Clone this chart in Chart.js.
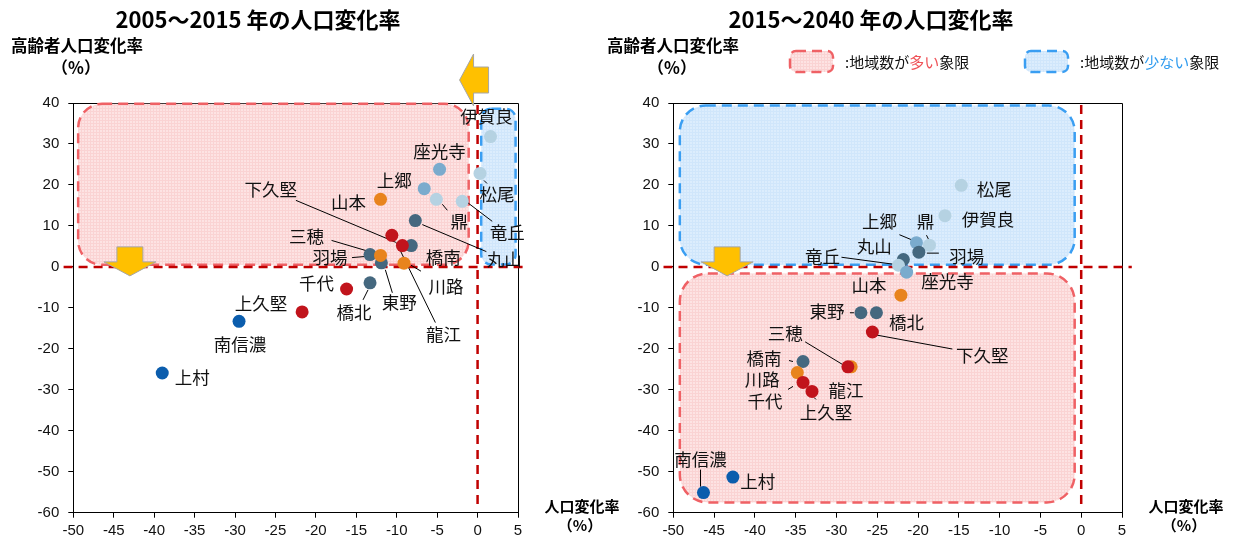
<!DOCTYPE html>
<html>
<head>
<meta charset="utf-8">
<script src="https://cdn.jsdelivr.net/npm/chart.js@4.4.1/dist/chart.umd.min.js"></script>
<style>
  html, body { margin: 0; padding: 0; background: #fff; }
  #wrap { position: relative; width: 1236px; height: 546px; overflow: hidden; }
  .pane { position: absolute; top: 0; }
  #paneA { left: 0; }
  #paneB { left: 596px; }
</style>
</head>
<body>
<div id="wrap">
  <div class="pane" id="paneA"><canvas id="chartA" width="620" height="546"></canvas></div>
  <div class="pane" id="paneB"><canvas id="chartB" width="640" height="546"></canvas></div>
</div>
<script>
const JP = "'Noto Sans CJK JP', 'Noto Sans', sans-serif";
const NUM = "'Liberation Sans', Arial, sans-serif";

// 地区名と地区グループ（色分け）
const places = ['伊賀良', '松尾', '上郷', '鼎', '丸山', '竜丘', '座光寺', '山本', '橋南', '羽場',
                '東野', '三穂', '龍江', '下久堅', '川路', '千代', '橋北', '上久堅', '南信濃', '上村'];
const areaGroup = ['pale', 'pale', 'mid', 'pale', 'slate', 'pale', 'mid', 'orange', 'slate', 'slate',
                   'slate', 'orange', 'red', 'red', 'orange', 'red', 'slate', 'red', 'blue', 'blue'];

// 2005～2015 年: 人口変化率 / 高齢者人口変化率 (%)
const popRate0515  = [1.6, 0.3, -6.6, -5.1, -7.7, -1.9, -4.7, -12.0, -8.2, -13.3,
                      -11.9, -12.0, -9.3, -10.6, -9.1, -16.2, -13.3, -21.7, -29.5, -39.0];
const agedRate0515 = [31.8, 22.8, 19.1, 16.5, 11.3, 16.0, 23.8, 16.5, 5.2, 3.0,
                      1.0, 2.8, 5.2, 7.7, 0.9, -5.4, -3.9, -11.0, -13.3, -25.9];

// 2015～2040 年
const popRate1540  = [-16.7, -14.7, -20.2, -18.6, -21.8, -22.4, -21.4, -22.1, -34.1, -19.9,
                      -27.0, -28.2, -28.6, -25.6, -34.8, -34.1, -25.1, -33.0, -46.3, -42.7];
const agedRate1540 = [12.5, 19.9, 5.9, 5.3, 1.8, 0.4, -1.3, -6.9, -23.1, 3.6,
                      -11.2, -24.4, -24.4, -15.9, -25.8, -28.2, -11.2, -30.4, -55.1, -51.3];

const titles = ['2005～2015 年の人口変化率', '2015～2040 年の人口変化率'];

const GROUP_COLORS = {
  pale: '#b5d2e2',
  mid: '#7aabcd',
  slate: '#45687f',
  orange: '#e8841d',
  red: '#c1141c',
  blue: '#0b5dad',
};

/* label placement: [dx, dy] from the marker, optional leader [x1, y1, x2, y2] */
const labelPosA = {
  '伊賀良': [-4, -20], '座光寺': [0, -18], '松尾': [17, 21, [4, 7, 7, 10]], '上郷': [-30, -8],
  '鼎': [23, 22, [6, 5, 11, 11]], '竜丘': [45, 31, [5, 1, 30, 20]], '山本': [-32, 3],
  '丸山': [89, 39, [7, 4, 71, 31]], '下久堅': [-121, -46, [-96, -35, 4, 7]],
  '龍江': [41, 89, [33, 77, -6, -3]], '橋南': [32, 12], '羽場': [-40, 3, [-18, 3, -6, 2]],
  '三穂': [-74, -19, [-49, -15, -5, -2]], '東野': [18, 40, [11, 30, 4, 7]],
  '川路': [42, 23, [17, 8, 7, 2]], '千代': [-30, -6], '橋北': [-16, 29, [-7, 17, -2, 7]],
  '上久堅': [-41, -9], '南信濃': [1, 23], '上村': [30, 4],
};
const labelPosB = {
  '松尾': [33, 4], '伊賀良': [43, 4], '上郷': [-37, -21, [-17, -8, -5, -3]],
  '鼎': [-4, -24, [-3, -10, -1, -6]], '羽場': [48, 4, [8, 1, 20, 1]], '丸山': [-29, -13],
  '竜丘': [-76, -9, [-57, -8, -5, -1]], '座光寺': [41, 9], '山本': [-32, -10],
  '東野': [-34, -1, [-11, 0, -7, 0]], '橋北': [30, 10], '下久堅': [110, 23, [4, 3, 80, 17]],
  '三穂': [-66, -34, [-46, -25, -8, -2]], '龍江': [-2, 23], '橋南': [-39, -3, [-14, -1, -10, 0]],
  '川路': [-35, 7], '千代': [-38, 19, [-15, 7, -10, 4]], '上久堅': [14, 21, [2, 6, 4, 8]],
  '南信濃': [-3, -33, [-3, -23, -3, -6]], '上村': [25, 4],
};

function texture(ctx, base, line) {
  const c = document.createElement('canvas');
  c.width = c.height = 3;
  const g = c.getContext('2d');
  g.fillStyle = base; g.fillRect(0, 0, 3, 3);
  g.fillStyle = line; g.fillRect(0, 0, 3, 1); g.fillRect(0, 0, 1, 3);
  return ctx.createPattern(c, 'repeat');
}

function zoneStyle(ctx, kind) {
  return kind === 'many'
    ? { fill: texture(ctx, '#fde3e3', '#fad3d3'), stroke: '#ef6165' }
    : { fill: texture(ctx, '#dcedfd', '#d0e6fb'), stroke: '#3a9ef2' };
}

function drawZone(ctx, x0, y0, x1, y1, r, kind) {
  const s = zoneStyle(ctx, kind);
  ctx.save();
  ctx.beginPath();
  ctx.roundRect(x0, y0, x1 - x0, y1 - y0, r);
  ctx.fillStyle = s.fill;
  ctx.fill();
  ctx.setLineDash([10, 6]);
  ctx.lineWidth = 2.5;
  ctx.strokeStyle = s.stroke;
  ctx.stroke();
  ctx.restore();
}

// block arrow; (px, py) is the reference point, dims in pixels
function drawArrow(ctx, px, py, dir) {
  ctx.save();
  ctx.translate(px, py);
  if (dir === 'left') ctx.rotate(Math.PI / 2);
  ctx.beginPath();
  ctx.moveTo(-13, -20);
  ctx.lineTo(13, -20);
  ctx.lineTo(13, -5);
  ctx.lineTo(26, -5);
  ctx.lineTo(0, 9);
  ctx.lineTo(-26, -5);
  ctx.lineTo(-13, -5);
  ctx.closePath();
  ctx.fillStyle = '#ffc000';
  ctx.fill();
  ctx.lineWidth = 1;
  ctx.strokeStyle = '#a6a6a6';
  ctx.stroke();
  ctx.restore();
}

const decor = {
  id: 'decor',
  beforeDatasetsDraw(chart, args, o) {
    const { ctx, chartArea: a, scales: { x, y } } = chart;
    ctx.save();
    // plot frame (top / right)
    ctx.strokeStyle = '#000';
    ctx.lineWidth = 1;
    ctx.beginPath();
    ctx.moveTo(a.left, Math.round(a.top) + 0.5);
    ctx.lineTo(Math.round(a.right) + 0.5, Math.round(a.top) + 0.5);
    ctx.lineTo(Math.round(a.right) + 0.5, a.bottom);
    ctx.stroke();

    o.zones.forEach(z => drawZone(ctx,
      x.getPixelForValue(z.x0), y.getPixelForValue(z.y1),
      x.getPixelForValue(z.x1), y.getPixelForValue(z.y0), z.r, z.kind));

    // zero lines
    ctx.strokeStyle = '#c00000';
    ctx.lineWidth = 2.5;
    ctx.setLineDash([9, 6]);
    const px0 = x.getPixelForValue(0), py0 = y.getPixelForValue(0);
    ctx.beginPath();
    ctx.moveTo(x.getPixelForValue(-51.2), py0);
    ctx.lineTo(x.getPixelForValue(6.2), py0);
    ctx.moveTo(px0, y.getPixelForValue(39.5));
    ctx.lineTo(px0, y.getPixelForValue(-58.5));
    ctx.stroke();
    ctx.setLineDash([]);

    // leader lines
    const meta = chart.getDatasetMeta(0);
    ctx.strokeStyle = '#000';
    ctx.lineWidth = 1;
    places.forEach((p, i) => {
      const lp = o.labels[p];
      if (!lp || !lp[2]) return;
      const pt = meta.data[i];
      const [x1, y1, x2, y2] = lp[2];
      ctx.beginPath();
      ctx.moveTo(pt.x + x1, pt.y + y1);
      ctx.lineTo(pt.x + x2, pt.y + y2);
      ctx.stroke();
    });
    ctx.restore();
  },
  afterDatasetsDraw(chart, args, o) {
    const { ctx, scales: { x, y } } = chart;
    const meta = chart.getDatasetMeta(0);
    ctx.save();
    ctx.font = `17.5px ${JP}`;
    ctx.fillStyle = '#111';
    ctx.textAlign = 'center';
    ctx.textBaseline = 'middle';
    places.forEach((p, i) => {
      const lp = o.labels[p];
      const pt = meta.data[i];
      ctx.fillText(p, pt.x + lp[0], pt.y + lp[1]);
    });
    o.arrows.forEach(ar => {
      drawArrow(ctx, x.getPixelForValue(ar.x) + (ar.dx || 0), y.getPixelForValue(ar.y) + (ar.dy || 0), ar.dir);
    });
    ctx.restore();
  },
  afterDraw(chart, args, o) {
    const { ctx, chartArea: a } = chart;
    ctx.save();
    ctx.fillStyle = '#000';
    ctx.textBaseline = 'middle';
    ctx.textAlign = 'center';
    ctx.font = `bold 22px ${JP}`;
    ctx.fillText(o.title, o.titleX, 20);

    ctx.font = `bold 16.5px ${JP}`;
    ctx.textAlign = 'left';
    ctx.fillText('高齢者人口変化率', 11, 46);
    ctx.textAlign = 'center';
    ctx.fillText('（%）', 76, 68);
    ctx.font = `bold 15px ${JP}`;
    ctx.fillText('人口変化率', a.right + 64, 506);
    ctx.fillText('（%）', a.right + 62, 525);

    if (o.legend) {
      const items = [
        { kind: 'many', x: 194, parts: [[':地域数が', '#111'], ['多い', '#ef5257'], ['象限', '#111']] },
        { kind: 'few', x: 429, parts: [[':地域数が', '#111'], ['少ない', '#2f9bef'], ['象限', '#111']] },
      ];
      items.forEach(it => {
        drawZone(ctx, it.x, 51, it.x + 43, 72, 6, it.kind);
        ctx.font = `15px ${JP}`;
        ctx.textAlign = 'left';
        let tx = it.x + 55;
        it.parts.forEach(([t, c]) => {
          ctx.fillStyle = c;
          ctx.fillText(t, tx, 62);
          tx += ctx.measureText(t).width;
        });
      });
    }
    ctx.restore();
  },
};

function makeChart(id, xs, ys, opts) {
  const points = places.map((p, i) => ({ x: xs[i], y: ys[i] }));
  return new Chart(document.getElementById(id), {
    type: 'scatter',
    data: {
      datasets: [{
        data: points,
        pointBackgroundColor: areaGroup.map(g => GROUP_COLORS[g]),
        pointBorderWidth: 0,
        pointRadius: 6.5,
        pointHoverRadius: 6.5,
      }],
    },
    options: {
      responsive: false,
      animation: false,
      events: [],
      layout: { padding: { top: 103, right: opts.padRight, left: 0, bottom: 0 } },
      plugins: { legend: { display: false }, tooltip: { enabled: false }, decor: opts.decor },
      scales: {
        x: {
          type: 'linear', min: -50, max: 5,
          ticks: { stepSize: 5, color: '#111', font: { family: NUM, size: 15 }, padding: 4, maxRotation: 0 },
          grid: { drawOnChartArea: false, drawTicks: true, tickLength: 5, color: '#000' },
          border: { display: true, color: '#000', width: 1 },
          afterFit: s => { s.height = 33.3; },
        },
        y: {
          type: 'linear', min: -60, max: 40,
          ticks: { stepSize: 10, color: '#111', font: { family: NUM, size: 15 }, padding: 9 },
          grid: { drawOnChartArea: false, drawTicks: true, tickLength: 5, color: '#000' },
          border: { display: true, color: '#000', width: 1 },
          afterFit: s => { s.width = opts.axisW; },
        },
      },
    },
    plugins: [decor],
  });
}

makeChart('chartA', popRate0515, agedRate0515, {
  padRight: 102, axisW: 73.3,
  decor: {
    title: titles[0], titleX: 258, labels: labelPosA, legend: false,
    zones: [
      { x0: -49.4, x1: -1.1, y0: 0.5, y1: 39.8, r: 24, kind: 'many' },
      { x0: 0.45, x1: 4.7, y0: 0.6, y1: 38.6, r: 10, kind: 'few' },
    ],
    arrows: [
      { x: -43, y: 0, dir: 'down' },
      { x: 0, y: 40, dx: -9, dy: -23, dir: 'left' },
    ],
  },
});

makeChart('chartB', popRate1540, agedRate1540, {
  padRight: 114, axisW: 77.3,
  decor: {
    title: titles[1], titleX: 275, labels: labelPosB, legend: true,
    zones: [
      { x0: -49.2, x1: -0.8, y0: 0.55, y1: 39.4, r: 26, kind: 'few' },
      { x0: -49.2, x1: -0.8, y0: -57.5, y1: -1.6, r: 28, kind: 'many' },
    ],
    arrows: [
      { x: -43.4, y: 0, dir: 'down' },
    ],
  },
});
</script>
</body>
</html>
